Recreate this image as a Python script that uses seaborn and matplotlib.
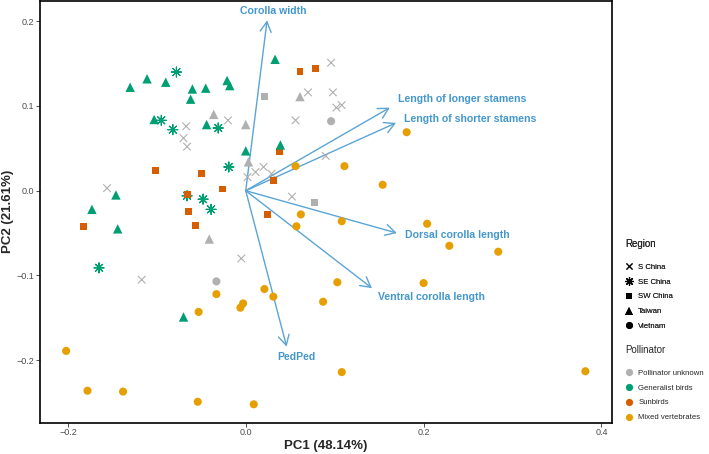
import numpy as np
import pandas as pd
import matplotlib
matplotlib.use("Agg")
import matplotlib.pyplot as plt
from matplotlib.lines import Line2D
import seaborn as sns

# ---------------- data ----------------
regions = ["S China", "SE China", "SW China", "Taiwan", "Vietnam"]
pollinators = ["Pollinator unknown", "Generalist birds", "Sunbirds", "Mixed vertebrates"]

# S China (all pollinator unknown)
schina_unk_x = [0.096, 0.070, 0.098, 0.102, 0.108, 0.056, -0.020, -0.067, -0.070, -0.066,
                0.090, 0.002, 0.011, 0.020, 0.029, 0.052, -0.156, -0.117, -0.005]
schina_unk_y = [0.151, 0.116, 0.116, 0.098, 0.101, 0.083, 0.083, 0.076, 0.062, 0.052,
                0.041, 0.016, 0.022, 0.028, 0.020, -0.007, 0.003, -0.105, -0.080]
# SE China (generalist birds)
sechina_gen_x = [-0.078, -0.095, -0.082, -0.031, -0.019, -0.066, -0.048, -0.039, -0.165]
sechina_gen_y = [0.140, 0.083, 0.072, 0.074, 0.028, -0.006, -0.010, -0.022, -0.091]
# SW China
swchina_sun_x = [0.061, 0.078, 0.038, -0.102, -0.050, -0.026, 0.031, -0.066, -0.064, 0.025, -0.056, -0.182]
swchina_sun_y = [0.141, 0.144, 0.046, 0.024, 0.020, 0.002, 0.012, -0.005, -0.024, -0.028, -0.041, -0.042]
swchina_unk_x = [0.021, 0.077]
swchina_unk_y = [0.111, -0.014]
# Taiwan
taiwan_gen_x = [0.033, -0.130, -0.111, -0.090, -0.060, -0.045, -0.021, -0.018, -0.062, -0.103,
                -0.044, 0.000, 0.039, -0.146, -0.173, -0.144, -0.070]
taiwan_gen_y = [0.155, 0.122, 0.132, 0.128, 0.120, 0.121, 0.130, 0.124, 0.108, 0.084,
                0.078, 0.047, 0.054, -0.005, -0.022, -0.045, -0.149]
taiwan_unk_x = [0.061, -0.036, 0.000, 0.003, -0.041]
taiwan_unk_y = [0.111, 0.090, 0.078, 0.034, -0.057]
# Vietnam
vietnam_unk_x = [0.096, -0.033]
vietnam_unk_y = [0.082, -0.107]
vietnam_mix_x = [0.056, 0.111, 0.062, 0.057, 0.108, 0.181, 0.154, 0.204, 0.229, 0.284,
                 0.103, 0.200, 0.108, 0.382, 0.087, 0.021, 0.031, -0.033, -0.053, -0.003,
                 -0.006, -0.202, -0.178, -0.138, -0.054, 0.009]
vietnam_mix_y = [0.029, 0.029, -0.028, -0.042, -0.036, 0.069, 0.007, -0.039, -0.065, -0.072,
                 -0.108, -0.109, -0.214, -0.213, -0.131, -0.116, -0.125, -0.122, -0.143, -0.133,
                 -0.138, -0.189, -0.236, -0.237, -0.249, -0.252]

# loadings (arrows)
load_names = ["Corolla width", "Length of longer stamens", "Length of shorter stamens",
              "Dorsal corolla length", "Ventral corolla length", "PedPed"]
load_x = [0.024, 0.162, 0.169, 0.170, 0.142, 0.046]
load_y = [0.201, 0.098, 0.080, -0.050, -0.115, -0.184]
label_x = [0.031, 0.243, 0.253, 0.238, 0.209, 0.057]
label_y = [0.212, 0.108, 0.084, -0.052, -0.125, -0.196]

groups = [
    ("S China", "Pollinator unknown", schina_unk_x, schina_unk_y),
    ("SE China", "Generalist birds", sechina_gen_x, sechina_gen_y),
    ("SW China", "Sunbirds", swchina_sun_x, swchina_sun_y),
    ("SW China", "Pollinator unknown", swchina_unk_x, swchina_unk_y),
    ("Taiwan", "Generalist birds", taiwan_gen_x, taiwan_gen_y),
    ("Taiwan", "Pollinator unknown", taiwan_unk_x, taiwan_unk_y),
    ("Vietnam", "Pollinator unknown", vietnam_unk_x, vietnam_unk_y),
    ("Vietnam", "Mixed vertebrates", vietnam_mix_x, vietnam_mix_y),
]
rows = []
for reg, pol, xs, ys in groups:
    for a, b in zip(xs, ys):
        rows.append({"PC1": a, "PC2": b, "Region": reg, "Pollinator": pol})
df = pd.DataFrame(rows)

# ---------------- style ----------------
sns.set_style("white")
plt.rcParams["font.family"] = ["Liberation Sans", "DejaVu Sans"]

palette = {"Pollinator unknown": "#B0B0B0", "Generalist birds": "#009E73",
           "Sunbirds": "#D55E00", "Mixed vertebrates": "#E69F00"}
markers = {"S China": "x", "SE China": (8, 2, 0), "SW China": "s", "Taiwan": "^", "Vietnam": "o"}
msizes = {"S China": 30, "SE China": 52, "SW China": 25, "Taiwan": 46, "Vietnam": 34}
arrow_col = "#5AA5D6"
text_col = "#4497CD"

fig = plt.figure(figsize=(7.09, 4.54), dpi=100)
ax = fig.add_axes([40 / 709, 1 - 422.7 / 454, (611.7 - 40) / 709, (422.7 - 1) / 454])

# arrows first (underneath points)
for nm, tx, ty, lx, ly in zip(load_names, load_x, load_y, label_x, label_y):
    ax.annotate("", xy=(tx, ty), xytext=(0, 0),
                arrowprops=dict(arrowstyle="->,head_length=0.6,head_width=0.33",
                                color=arrow_col, lw=1.0, mutation_scale=12,
                                shrinkA=0, shrinkB=0))

for reg in regions:
    sub = df[df["Region"] == reg]
    lw = 0.8 if reg in ("S China", "SE China") else 0
    sns.scatterplot(data=sub, x="PC1", y="PC2", hue="Pollinator", palette=palette,
                    marker=markers[reg], s=msizes[reg], linewidth=lw, legend=False,
                    ax=ax, zorder=3)

for nm, lx, ly in zip(load_names, label_x, label_y):
    ax.text(lx, ly, nm, color=text_col, fontsize=7.6, fontweight="bold",
            ha="center", va="center", zorder=4)

ax.set_xlim(-0.2314, 0.4116)
ax.set_ylim(-0.2737, 0.2238)
ax.set_xticks([-0.2, 0.0, 0.2, 0.4])
ax.set_yticks([-0.2, -0.1, 0.0, 0.1, 0.2])
ax.set_xticklabels(["\u22120.2", "0.0", "0.2", "0.4"])
ax.set_yticklabels(["\u22120.2", "\u22120.1", "0.0", "0.1", "0.2"])
ax.tick_params(axis="both", which="both", length=2.6, width=0.6, color="#333333",
               labelsize=6.5, labelcolor="#4D4D4D", pad=1.5, direction="out",
               bottom=True, left=True)
for sp in ax.spines.values():
    sp.set_visible(True)
    sp.set_color("black")
    sp.set_linewidth(1.2)

ax.set_xlabel("PC1 (48.14%)", fontsize=9.5, fontweight="bold")
ax.set_ylabel("PC2 (21.61%)", fontsize=9.5, fontweight="bold")
ax.xaxis.set_label_coords(0.5, -(446.5 - 422.7) / 421.7)
ax.yaxis.set_label_coords(-(40 - 8.5) / 571.7, 0.5)
ax.xaxis.label.set_va("center")
ax.yaxis.label.set_va("center")

# ---------------- legends ----------------
reg_ms = {"S China": 4.8, "SE China": 6.2, "SW China": 4.4, "Taiwan": 5.4, "Vietnam": 5.0}
reg_handles = []
for reg in regions:
    lw = 0.8 if reg in ("S China", "SE China") else 0.0
    reg_handles.append(Line2D([], [], marker=markers[reg], linestyle="", color="black",
                              markersize=reg_ms[reg], markeredgewidth=lw,
                              markeredgecolor="black"))
leg_kw = dict(loc="upper left", frameon=False, fontsize=5.6, title_fontsize=7,
              handlelength=1.0, handletextpad=0.7, labelspacing=0.95, borderpad=0,
              borderaxespad=0, alignment="left")
leg1 = fig.legend(reg_handles, regions, title="Region",
                  bbox_to_anchor=(625 / 709, 1 - 239 / 454), **leg_kw)
leg1._legend_box.sep += 5.0
fig.add_artist(leg1)

pol_handles = [Line2D([], [], marker="o", linestyle="", color=palette[p], markersize=5.2,
                      markeredgewidth=0) for p in pollinators]
leg2 = fig.legend(pol_handles, pollinators, title="Pollinator",
                  bbox_to_anchor=(625 / 709, 1 - 345 / 454), **leg_kw)
leg2._legend_box.sep += 5.0

fig.savefig("out.png", dpi=100)
